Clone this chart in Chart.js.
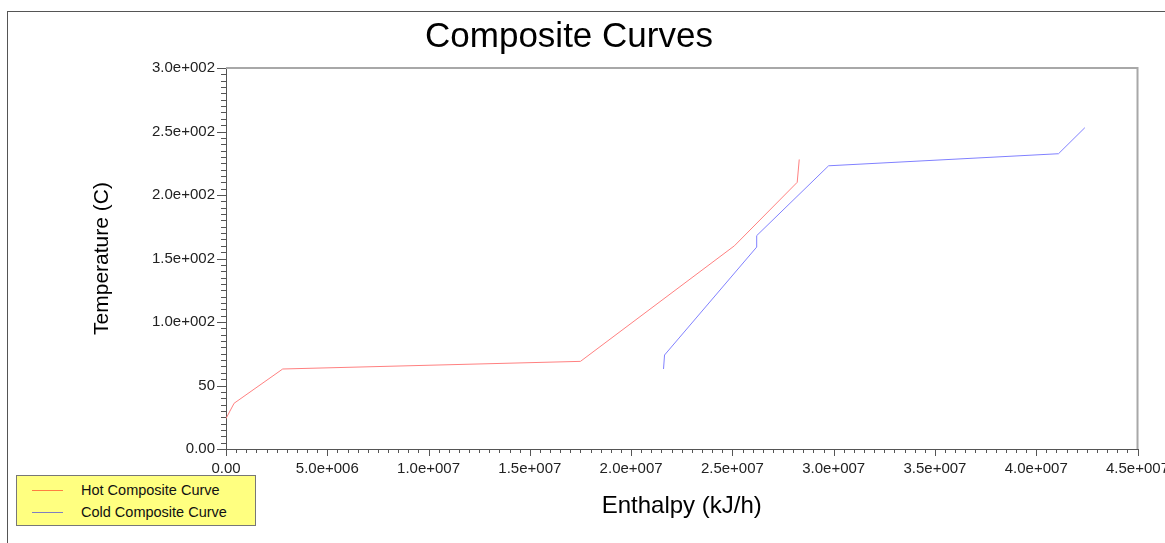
<!DOCTYPE html>
<html lang="en">
<head>
<meta charset="UTF-8" />
<title>Composite Curves</title>
<script src="https://cdn.jsdelivr.net/npm/chart.js"></script>
<style>
  html, body { margin: 0; padding: 0; background: #fff; overflow: hidden; }
  body { width: 1165px; height: 543px; position: relative; font-family: "Liberation Sans", Arial, sans-serif; }
  #frame { position: absolute; left: 7px; top: 11px; width: 1300px; height: 700px; border: 1px solid #555; box-sizing: border-box; }
  #title { position: absolute; left: 319px; width: 500px; top: 16px; text-align: center; font-size: 35px; line-height: 38px; color: #000; }
  #wrap { position: absolute; left: 0; top: 0; width: 1172px; height: 543px; }
  #legend { position: absolute; left: 16px; top: 475px; width: 240px; height: 51px; background: #ffff80; border: 1px solid #777; box-sizing: border-box; font-size: 14.5px; color: #111; }
  #legend .item { position: absolute; left: 15px; height: 22px; line-height: 22px; }
  #legend .swatch { position: absolute; left: 0; top: 11px; width: 31px; height: 1px; }
  #legend .lbl { position: absolute; left: 49px; top: 0; white-space: nowrap; }
</style>
</head>
<body>
  <div id="frame"></div>
  <div id="wrap"><canvas id="chart"></canvas></div>
  <div id="title">Composite Curves</div>
  <div id="legend"></div>

<script>
  // values
  const hotX = [0, 0.4e6, 2.8e6, 17.5e6, 25.1e6, 28.2e6, 28.3e6];
  const hotY = [24, 36, 63, 69, 160, 210, 228];
  const coldX = [21.6e6, 21.65e6, 26.2e6, 26.2e6, 29.75e6, 41.1e6, 42.4e6];
  const coldY = [63, 74, 159, 168, 223, 232.5, 253];

  const xTickLabels = ["0.00", "5.0e+006", "1.0e+007", "1.5e+007", "2.0e+007", "2.5e+007", "3.0e+007", "3.5e+007", "4.0e+007", "4.5e+007"];
  const yTickLabels = ["0.00", "50", "1.0e+002", "1.5e+002", "2.0e+002", "2.5e+002", "3.0e+002"];

  const toPoints = (xs, ys) => xs.map((x, i) => ({ x: x, y: ys[i] }));

  // draws major/minor tick marks and the light top/right frame of the plot
  const tickPlugin = {
    id: "minorTicks",
    afterDraw(chart) {
      const ctx = chart.ctx;
      const area = chart.chartArea;
      ctx.save();
      ctx.strokeStyle = "#a8a8a8";
      ctx.lineWidth = 2;
      ctx.beginPath();
      ctx.moveTo(area.left, area.top);
      ctx.lineTo(area.right, area.top);
      ctx.lineTo(area.right, area.bottom);
      ctx.stroke();

      ctx.strokeStyle = "#555";
      ctx.lineWidth = 1;
      const xs = chart.scales.x;
      xs.ticks.forEach((t, i) => {
        const px = Math.round(xs.getPixelForValue(t.value)) + 0.5;
        const len = i % 10 === 0 ? 7 : 4;
        ctx.beginPath();
        ctx.moveTo(px, area.bottom);
        ctx.lineTo(px, area.bottom + len);
        ctx.stroke();
      });
      const ys = chart.scales.y;
      ys.ticks.forEach((t, i) => {
        const py = Math.round(ys.getPixelForValue(t.value)) + 0.5;
        const len = i % 10 === 0 ? 9 : 5;
        ctx.beginPath();
        ctx.moveTo(area.left - len, py);
        ctx.lineTo(area.left, py);
        ctx.stroke();
      });
      ctx.restore();
    }
  };

  const chart = new Chart(document.getElementById("chart"), {
    type: "scatter",
    data: {
      datasets: [
        { label: "Hot Composite Curve", data: toPoints(hotX, hotY), showLine: true, borderColor: "#ff8080", backgroundColor: "#ff8080", legendColor: "rgba(255,0,0,0.5)", borderWidth: 1, pointRadius: 0, tension: 0 },
        { label: "Cold Composite Curve", data: toPoints(coldX, coldY), showLine: true, borderColor: "#8080ff", backgroundColor: "#8080ff", legendColor: "rgba(0,0,255,0.5)", borderWidth: 1, pointRadius: 0, tension: 0 }
      ]
    },
    options: {
      responsive: true,
      maintainAspectRatio: false,
      animation: false,
      layout: { padding: { left: 86, top: 68, right: 0, bottom: 18 } },
      plugins: { legend: { display: false }, title: { display: false }, tooltip: { enabled: false } },
      scales: {
        x: {
          type: "linear",
          min: 0,
          max: 4.5e7,
          grid: { display: false },
          border: { display: true, color: "#555", width: 1 },
          ticks: {
            stepSize: 5e5,
            autoSkip: false,
            maxRotation: 0,
            padding: 3,
            color: "#222",
            font: { family: "Liberation Sans", size: 15 },
            callback: (v, i) => (i % 10 === 0 ? xTickLabels[i / 10] : "")
          },
          title: { display: true, text: "Enthalpy (kJ/h)", color: "#000", font: { family: "Liberation Sans", size: 24 } },
          afterFit: (s) => { s.height = 76; }
        },
        y: {
          type: "linear",
          min: 0,
          max: 300,
          grid: { display: false },
          border: { display: true, color: "#555", width: 1 },
          ticks: {
            stepSize: 5,
            autoSkip: false,
            padding: 3,
            color: "#222",
            font: { family: "Liberation Sans", size: 15 },
            callback: (v, i) => (i % 10 === 0 ? yTickLabels[i / 10] : "")
          },
          title: { display: true, text: "Temperature (C)", color: "#000", font: { family: "Liberation Sans", size: 21 } },
          afterFit: (s) => { s.width = 140; }
        }
      }
    },
    plugins: [tickPlugin]
  });

  // legend built from the chart's datasets
  const legend = document.getElementById("legend");
  chart.data.datasets.forEach((ds, i) => {
    const item = document.createElement("div");
    item.className = "item";
    item.style.top = (3 + i * 22) + "px";
    item.innerHTML = '<span class="swatch" style="background:' + ds.legendColor + '"></span><span class="lbl">' + ds.label + "</span>";
    legend.appendChild(item);
  });
</script>
</body>
</html>
